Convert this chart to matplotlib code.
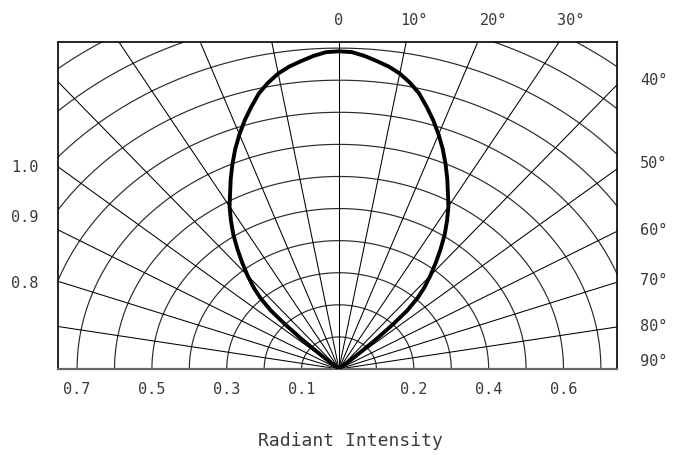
import numpy as np
import matplotlib
matplotlib.use("Agg")
import matplotlib.pyplot as plt

# radiation pattern (symmetric about 0 deg)
angles = [0, 2, 4, 6, 8, 10, 12, 14, 16, 18, 20, 22, 24, 26, 28, 30, 32, 34, 36,
          38, 40, 42, 43.5, 45, 46, 47, 48, 48.8]
intensity = [0.990, 0.988, 0.978, 0.965, 0.952, 0.935, 0.912, 0.885, 0.850, 0.815,
             0.778, 0.740, 0.700, 0.660, 0.620, 0.585, 0.545, 0.505, 0.462, 0.420,
             0.380, 0.340, 0.305, 0.258, 0.20, 0.135, 0.06, 0.0]

bottom_labels = ["0.7", "0.5", "0.3", "0.1", "0.2", "0.4", "0.6"]
bottom_pos = [-0.7, -0.5, -0.3, -0.1, 0.2, 0.4, 0.6]
top_labels = ["0", "10°", "20°", "30°"]
right_labels = ["40°", "50°", "60°", "70°", "80°", "90°"]
left_labels = ["1.0", "0.9", "0.8"]

plt.rcParams["font.family"] = ["DejaVu Sans Mono", "DejaVu Sans"]

fig = plt.figure(figsize=(6.76, 4.56), dpi=100)
ax = fig.add_axes([58/676, 1 - 370/456, (617 - 58)/676, (370 - 43)/456])
ax.set_xlim(-7.51, 7.43)
ax.set_ylim(0, 10.19)
ax.set_xticks([]); ax.set_yticks([])
for s in ax.spines.values():
    s.set_linewidth(1.2)
    s.set_color("black")
ax.spines["bottom"].set_color("#666666")
ax.spines["bottom"].set_linewidth(1.6)

# polar grid: circles every 0.1, spokes every 10 deg
t = np.radians(np.linspace(-90, 90, 361))
for r in range(1, 14):
    ax.plot(r*np.sin(t), r*np.cos(t), color="#2a2a2a", lw=0.85, zorder=1)
for a in range(-80, 90, 10):
    ar = np.radians(a)
    ax.plot([0, 20*np.sin(ar)], [0, 20*np.cos(ar)], color="black", lw=0.75, zorder=1)

# pattern curve, both halves
th = np.radians(angles)
r = np.array(intensity) * 10
x = np.concatenate([-(r*np.sin(th))[::-1], (r*np.sin(th))[1:]])
y = np.concatenate([(r*np.cos(th))[::-1], (r*np.cos(th))[1:]])
ax.plot(x, y, color="black", lw=2.8, zorder=3, solid_capstyle="round", solid_joinstyle="round")

tc = "#3a3a3a"
fs = 11
for lab, p in zip(bottom_labels, bottom_pos):
    ax.text(p*10, -0.62, lab, ha="center", va="center", fontsize=fs, color=tc, clip_on=False)
for lab, xp in zip(top_labels, [0, 2.0, 4.12, 6.2]):
    ax.text(xp, 10.9, lab, ha="center", va="center", fontsize=fs, color=tc, clip_on=False)
for lab, yp in zip(right_labels, [9.03, 6.45, 4.36, 2.80, 1.34, 0.25]):
    ax.text(8.42, yp, lab, ha="center", va="center", fontsize=fs, color=tc, clip_on=False)
for lab, yp in zip(left_labels, [6.32, 4.74, 2.71]):
    ax.text(-8.4, yp, lab, ha="center", va="center", fontsize=fs, color=tc, clip_on=False)

fig.text(350/676, 1 - 441/456, "Radiant Intensity", ha="center", va="center",
         fontsize=13, color=tc)

fig.savefig("out.png", dpi=100, facecolor="white")
